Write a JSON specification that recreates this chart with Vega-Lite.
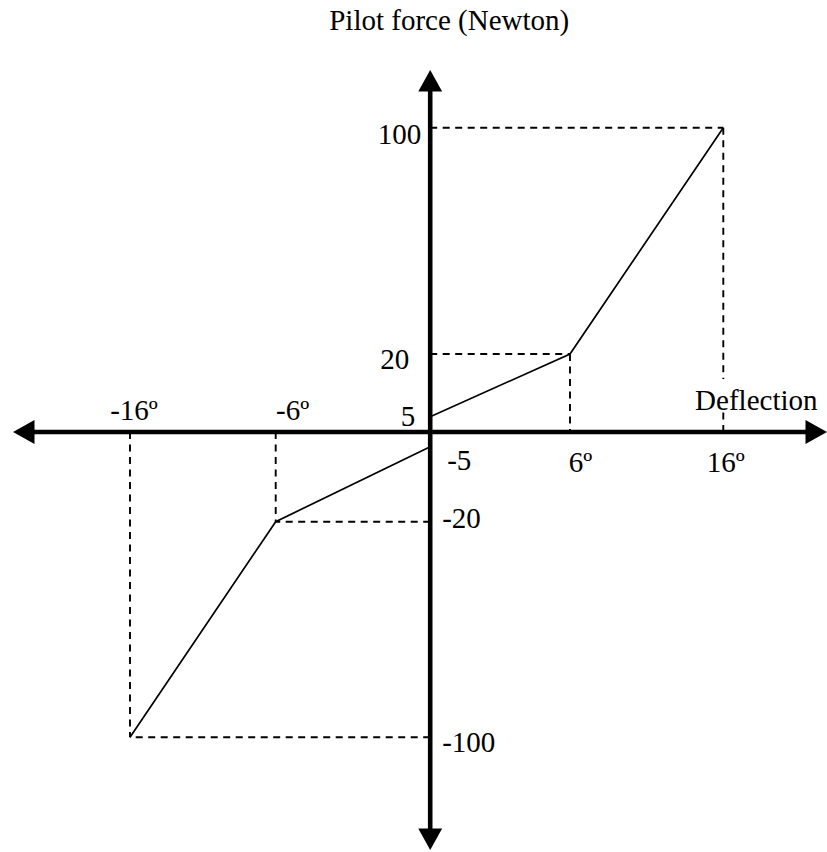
{
  "$schema": "https://vega.github.io/schema/vega-lite/v6.json",
  "width": 827,
  "height": 852,
  "autosize": {"type": "none"},
  "padding": 0,
  "background": "white",
  "config": {
    "view": {"stroke": null},
    "text": {"font": "Liberation Serif", "fontSize": 29, "color": "black", "baseline": "alphabetic"}
  },
  "datasets": {
    "curve": [
      {"branch": "negative", "x": -16, "y": -100},
      {"branch": "negative", "x": -6, "y": -20},
      {"branch": "negative", "x": 0, "y": -5},
      {"branch": "positive", "x": 0, "y": 5},
      {"branch": "positive", "x": 6, "y": 20},
      {"branch": "positive", "x": 16, "y": 100}
    ],
    "guides": [
      {"x": 0, "y": 100, "x2": 16, "y2": 100},
      {"x": 16, "y": 100, "x2": 16, "y2": 14},
      {"x": 16, "y": 6, "x2": 16, "y2": 0},
      {"x": 0, "y": 20, "x2": 6, "y2": 20},
      {"x": 6, "y": 20, "x2": 6, "y2": 0},
      {"x": -6, "y": 0, "x2": -6, "y2": -20},
      {"x": 0, "y": -20, "x2": -6, "y2": -20},
      {"x": -16, "y": 0, "x2": -16, "y2": -100},
      {"x": 0, "y": -100, "x2": -16, "y2": -100}
    ],
    "axes": [
      {"x": -19.4, "y": 0, "x2": 19.4, "y2": 0},
      {"x": 0, "y": -117.3, "x2": 0, "y2": 114.8}
    ],
    "arrows": [
      {"x": 20, "y": 0, "dir": "right"},
      {"x": -20, "y": 0, "dir": "left"},
      {"x": 0, "y": 120, "dir": "up"},
      {"x": 0, "y": -120, "dir": "down"}
    ],
    "labels": [
      {"text": "Pilot force (Newton)", "x": 0, "y": 120},
      {"text": "100", "x": 0, "y": 100},
      {"text": "20", "x": 0, "y": 20},
      {"text": "5", "x": 0, "y": 5},
      {"text": "-5", "x": 0, "y": -5},
      {"text": "-20", "x": 0, "y": -20},
      {"text": "-100", "x": 0, "y": -100},
      {"text": "-16º", "x": -16, "y": 0},
      {"text": "-6º", "x": -6, "y": 0},
      {"text": "6º", "x": 6, "y": 0},
      {"text": "16º", "x": 16, "y": 0},
      {"text": "Deflection", "x": 16, "y": 0}
    ]
  },
  "encoding": {
    "x": {
      "field": "x",
      "type": "quantitative",
      "axis": null,
      "scale": {"domain": [-20, -16, -6, 0, 6, 16, 20], "range": [13, 130, 275.7, 430.2, 570, 723.3, 827], "nice": false, "zero": false}
    },
    "y": {
      "field": "y",
      "type": "quantitative",
      "axis": null,
      "scale": {"domain": [-120, -100, -20, -5, 0, 5, 20, 100, 120], "range": [850, 737.3, 521.7, 446.7, 432, 416.7, 354, 127.7, 70], "nice": false, "zero": false}
    }
  },
  "layer": [
    {
      "data": {"name": "guides"},
      "mark": {"type": "rule", "color": "black", "strokeWidth": 1.9, "strokeDash": [7, 5.5]},
      "encoding": {"x2": {"field": "x2"}, "y2": {"field": "y2"}}
    },
    {
      "data": {"name": "curve"},
      "mark": {"type": "line", "color": "black", "strokeWidth": 1.7},
      "encoding": {"detail": {"field": "branch", "type": "nominal"}}
    },
    {
      "data": {"name": "axes"},
      "mark": {"type": "rule", "color": "black", "strokeWidth": 4.6},
      "encoding": {"x2": {"field": "x2"}, "y2": {"field": "y2"}}
    },
    {
      "data": {"name": "arrows"},
      "mark": {"type": "point", "filled": true, "opacity": 1, "color": "black", "size": 570, "strokeWidth": 0},
      "encoding": {
        "shape": {
          "field": "dir",
          "type": "nominal",
          "legend": null,
          "scale": {
            "domain": ["right", "left", "up", "down"],
            "range": ["M0,0L-1.8,-1L-1.8,1Z", "M0,0L1.8,-1L1.8,1Z", "M0,0L-1,1.8L1,1.8Z", "M0,0L-1,-1.8L1,-1.8Z"]
          }
        }
      }
    },
    {
      "data": {"name": "labels"},
      "transform": [{"filter": "datum.text === 'Pilot force (Newton)'"}],
      "mark": {"type": "text", "align": "center", "dx": 19, "dy": -40},
      "encoding": {"text": {"field": "text"}}
    },
    {
      "data": {"name": "labels"},
      "transform": [{"filter": "datum.text === '100'"}],
      "mark": {"type": "text", "align": "right", "dx": -9, "dy": 16},
      "encoding": {"text": {"field": "text"}}
    },
    {
      "data": {"name": "labels"},
      "transform": [{"filter": "datum.text === '20'"}],
      "mark": {"type": "text", "align": "right", "dx": -21, "dy": 15},
      "encoding": {"text": {"field": "text"}}
    },
    {
      "data": {"name": "labels"},
      "transform": [{"filter": "datum.text === '5'"}],
      "mark": {"type": "text", "align": "right", "dx": -15, "dy": 9.5},
      "encoding": {"text": {"field": "text"}}
    },
    {
      "data": {"name": "labels"},
      "transform": [{"filter": "datum.text === '-5'"}],
      "mark": {"type": "text", "align": "left", "dx": 17, "dy": 23.5},
      "encoding": {"text": {"field": "text"}}
    },
    {
      "data": {"name": "labels"},
      "transform": [{"filter": "datum.text === '-20'"}],
      "mark": {"type": "text", "align": "left", "dx": 12, "dy": 6.5},
      "encoding": {"text": {"field": "text"}}
    },
    {
      "data": {"name": "labels"},
      "transform": [{"filter": "datum.text === '-100'"}],
      "mark": {"type": "text", "align": "left", "dx": 12, "dy": 14.5},
      "encoding": {"text": {"field": "text"}}
    },
    {
      "data": {"name": "labels"},
      "transform": [{"filter": "datum.text === '-16º'"}],
      "mark": {"type": "text", "align": "center", "dx": 4, "dy": -12},
      "encoding": {"text": {"field": "text"}}
    },
    {
      "data": {"name": "labels"},
      "transform": [{"filter": "datum.text === '-6º'"}],
      "mark": {"type": "text", "align": "center", "dx": 17, "dy": -12},
      "encoding": {"text": {"field": "text"}}
    },
    {
      "data": {"name": "labels"},
      "transform": [{"filter": "datum.text === '6º'"}],
      "mark": {"type": "text", "align": "center", "dx": 10.5, "dy": 40},
      "encoding": {"text": {"field": "text"}}
    },
    {
      "data": {"name": "labels"},
      "transform": [{"filter": "datum.text === '16º'"}],
      "mark": {"type": "text", "align": "center", "dx": 2.5, "dy": 40},
      "encoding": {"text": {"field": "text"}}
    },
    {
      "data": {"name": "labels"},
      "transform": [{"filter": "datum.text === 'Deflection'"}],
      "mark": {"type": "text", "align": "center", "dx": 33, "dy": -22},
      "encoding": {"text": {"field": "text"}}
    }
  ]
}
